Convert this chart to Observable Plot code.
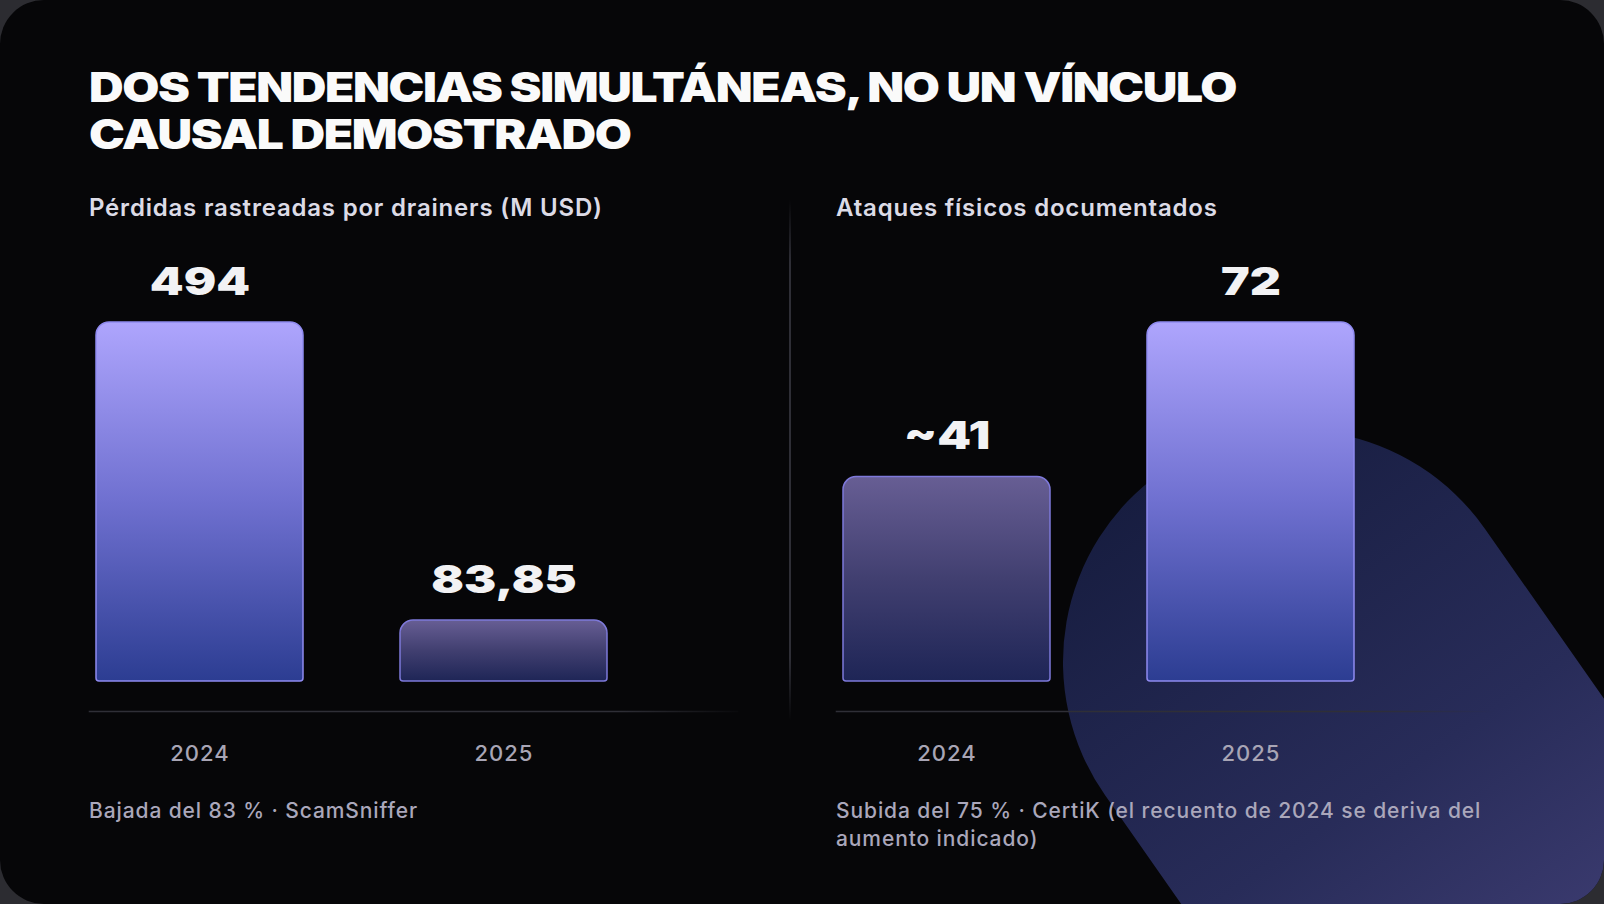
<!DOCTYPE html>
<html>
<head>
<meta charset="utf-8">
<script src="https://cdn.jsdelivr.net/npm/d3@7"></script>
<script src="https://cdn.jsdelivr.net/npm/@observablehq/plot@0.6"></script>
<style>
  html, body { margin: 0; padding: 0; background: #2c2c31; }
  body { width: 1604px; height: 904px; overflow: hidden; position: relative; font-family: Inter, "Noto Sans", sans-serif; }
  #card { position: absolute; left: 0; top: 0; width: 1604px; height: 904px; border-radius: 44px; background: #060608; overflow: hidden; }
  #blob { position: absolute; left: 0; top: 0; }
  .title { position: absolute; left: 89px; top: 64px; color: #fafafa; font-weight: 900; font-size: 41px; line-height: 47px; letter-spacing: -1.2px; transform-origin: 0 0; white-space: nowrap; }
  .sub { position: absolute; top: 193px; color: #dcdbe6; font-weight: 600; font-size: 24px; white-space: nowrap; letter-spacing: 0.8px; }
  .cap { position: absolute; top: 797px; color: #aaa7bb; font-weight: 500; font-size: 21px; line-height: 28px; letter-spacing: 0.9px; }
  .plot { position: absolute; top: 240px; }
  #divider { position: absolute; left: 789px; top: 200px; width: 1.5px; height: 520px; background: linear-gradient(to bottom, rgba(50,50,58,0), #2e2e36 12%, #2e2e36 88%, rgba(50,50,58,0)); }
</style>
</head>
<body>
<div id="card">
  <svg id="blob" width="1604" height="904">
    <defs>
      <linearGradient id="blobGrad" x1="0" y1="0" x2="1" y2="0">
        <stop offset="0" stop-color="#171d40"/>
        <stop offset="0.35" stop-color="#282c59"/>
        <stop offset="0.75" stop-color="#4b4782"/>
        <stop offset="1" stop-color="#5a5490"/>
      </linearGradient>
    </defs>
    <rect x="-232" y="-232" width="1100" height="464" rx="232" fill="url(#blobGrad)" transform="translate(1295,662) rotate(55)"/>
  </svg>
  <div class="title">DOS TENDENCIAS SIMULTÁNEAS, NO UN VÍNCULO<br>CAUSAL DEMOSTRADO</div>
  <div class="sub" style="left:89px">Pérdidas rastreadas por drainers (M USD)</div>
  <div class="sub" style="left:836px">Ataques físicos documentados</div>
  <div id="divider"></div>
  <div class="plot" id="left" style="left:89px"></div>
  <div class="plot" id="right" style="left:836px"></div>
  <div class="cap" style="left:89px">Bajada del 83 % · ScamSniffer</div>
  <div class="cap" style="left:836px; width:690px">Subida del 75 % · CertiK (el recuento de 2024 se deriva del aumento indicado)</div>
</div>
<script>
// ---- data ----
const years = ["2024", "2025"];
const lossValues = [494, 83.85];
const lossLabels = ["494", "83,85"];
const attackValues = [41, 72];
const attackLabels = ["~41", "72"];

function defs() {
  const g = d3.create("svg:defs");
  const hi = g.append("linearGradient").attr("id", "barHi").attr("x1", 0).attr("y1", 0).attr("x2", 0).attr("y2", 1);
  hi.append("stop").attr("offset", 0).attr("stop-color", "#aea5fd");
  hi.append("stop").attr("offset", 0.5).attr("stop-color", "#6f70d0");
  hi.append("stop").attr("offset", 1).attr("stop-color", "#2c3d92");
  const lo = g.append("linearGradient").attr("id", "barLo").attr("x1", 0).attr("y1", 0).attr("x2", 0).attr("y2", 1);
  lo.append("stop").attr("offset", 0).attr("stop-color", "#675e94");
  lo.append("stop").attr("offset", 0.5).attr("stop-color", "#413f70");
  lo.append("stop").attr("offset", 1).attr("stop-color", "#1e2556");
  const fade = g.append("linearGradient").attr("id", "fade").attr("gradientUnits", "userSpaceOnUse")
    .attr("x1", 0).attr("y1", 0).attr("x2", 660).attr("y2", 0);
  fade.append("stop").attr("offset", 0).attr("stop-color", "#2f2f37");
  fade.append("stop").attr("offset", 0.8).attr("stop-color", "#2f2f37");
  fade.append("stop").attr("offset", 1).attr("stop-color", "#2f2f37").attr("stop-opacity", 0);
  return g.node();
}

function chart(values, labels, width) {
  const data = years.map((y, i) => ({year: y, value: values[i], label: labels[i]}));
  const max = d3.max(values);
  const plot = Plot.plot({
    width, height: 550,
    marginTop: 82, marginBottom: 79, marginLeft: 0, marginRight: 0,
    insetBottom: 30,
    style: {background: "transparent", fontFamily: "Inter, sans-serif", overflow: "visible"},
    x: {domain: years, range: [7, 520], paddingInner: 0.318, paddingOuter: 0, align: 0},
    y: {domain: [0, max], axis: null},
    marks: [
      () => defs(),
      Plot.frame({anchor: "bottom", stroke: "url(#fade)", strokeWidth: 1.5, strokeOpacity: 1}),
      Plot.barY(data, {
        x: "year", y: "value",
        fill: d => d.value === max ? "url(#barHi)" : "url(#barLo)",
        stroke: d => d.value === max ? "#8f8af0" : "#7e79da",
        strokeWidth: 1.5,
        rx1y1: 13, rx2y1: 13, rx1y2: 3, rx2y2: 3,
        inset: 0
      }),
      Plot.text(data, {
        x: "year", y: "value", text: "label", dy: -28, lineAnchor: "bottom",
        fill: "#f2f2f4", fontSize: 38, fontWeight: 900, className: "vlab"
      }),
      Plot.axisX({tickSize: 0, tickPadding: 34, fontSize: 22, fontWeight: 500, color: "#a8a5b5", label: null, className: "xlab"})
    ]
  });
  return plot;
}

document.getElementById("left").appendChild(chart(lossValues, lossLabels, 648));
document.getElementById("right").appendChild(chart(attackValues, attackLabels, 680));

// widen the heavy value labels to mimic an extended display face
document.querySelectorAll(".vlab text").forEach(t => {
  const w = t.getComputedTextLength();
  t.setAttribute("textLength", w * 1.27);
  t.setAttribute("lengthAdjust", "spacingAndGlyphs");
});
document.querySelectorAll(".xlab text").forEach(t => t.setAttribute("letter-spacing", "1"));
// stretch the title similarly
document.querySelector(".title").style.transform = "scaleX(1.17)";
</script>
</body>
</html>
